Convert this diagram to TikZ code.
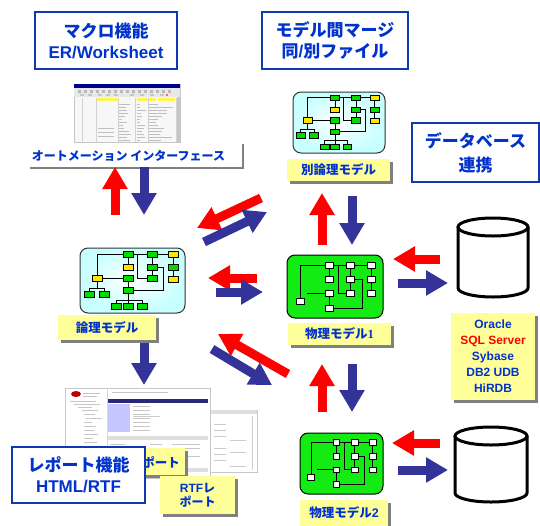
\documentclass[tikz,border=0pt]{standalone}
\usepackage{fontspec}
\setmainfont{Liberation Sans}
\newfontfamily\jpb{Noto Sans CJK JP Bold}
\newfontfamily\numserif{Liberation Serif}
\usetikzlibrary{arrows.meta,shadows}

\definecolor{txtblue}{RGB}{0,51,204}
\definecolor{frameblue}{RGB}{16,56,176}
\definecolor{arrred}{RGB}{255,0,0}
\definecolor{arrblue}{RGB}{51,51,153}
\definecolor{labelyellow}{RGB}{255,255,153}
\definecolor{shadowgray}{RGB}{128,128,128}
\definecolor{pmgreen}{RGB}{20,235,20}
\definecolor{lmgreen}{RGB}{0,220,0}
\definecolor{lmyellow}{RGB}{255,230,0}

\newcommand\J[1]{{\jpb #1}}

% small entity boxes of the model thumbnails
\newcommand\lmbx[3]{\filldraw[fill=#1,draw=black,line width=0.5pt] (#2-5,#3-2.8) rectangle (#2+5,#3+2.8);}
\newcommand\pmbx[2]{\filldraw[fill=white,draw=black,line width=0.6pt] (#1-4,#2-3) rectangle (#1+4,#2+3);}

% logical model thumbnail, local frame 105 x 65
\newcommand\logicdiagram{%
  \draw[wire] (17,30)--(17,6)--(93,6);
  \draw[wire] (48,6)--(48,19);
  \draw[wire] (17,30)--(48,30);
  \draw[wire] (57,6)--(57,30)--(72,30);
  \draw[wire] (72,6)--(72,30);
  \draw[wire] (72,19)--(83,19)--(83,42)--(48,42);
  \draw[wire] (48,30)--(48,52) (36,58)--(36,52)--(62,52)--(62,58) (48,52)--(48,58);
  \draw[wire] (17,30)--(17,40) (9,46)--(9,40)--(24,40)--(24,46);
  \draw[wire] (93,6)--(93,31);
  \lmbx{lmgreen}{48}{6}\lmbx{lmgreen}{72}{6}\lmbx{lmyellow}{93}{6}
  \lmbx{lmyellow}{48}{19}\lmbx{lmgreen}{72}{19}\lmbx{lmgreen}{93}{19}
  \lmbx{lmyellow}{17}{30}\lmbx{lmgreen}{48}{30}\lmbx{lmgreen}{72}{30}\lmbx{lmyellow}{93}{31}
  \lmbx{lmgreen}{48}{42}
  \lmbx{lmgreen}{9}{46}\lmbx{lmgreen}{24}{46}
  \lmbx{lmgreen}{36}{58}\lmbx{lmgreen}{48}{58}\lmbx{lmgreen}{62}{58}
}

% physical model thumbnail, local frame 96 x 63
\newcommand\physdiagram{%
  \draw[wire] (13,46)--(13,10)--(84,10);
  \draw[wire] (42,10)--(42,24);
  \draw[wire] (51,10)--(51,38)--(63,38);
  \draw[wire] (63,10)--(63,38);
  \draw[wire] (84,10)--(84,38);
  \draw[wire] (20,38)--(42,38);
  \draw[wire] (42,38)--(42,53)--(75,53)--(75,24)--(63,24);
  \pmbx{42}{10}\pmbx{63}{10}\pmbx{84}{10}
  \pmbx{42}{24}\pmbx{63}{24}\pmbx{84}{24}
  \pmbx{42}{38}\pmbx{63}{38}\pmbx{84}{38}
  \pmbx{42}{53}\pmbx{13}{46}
}

\tikzset{
  titlebox/.style={draw=frameblue, line width=2pt, fill=white, inner sep=0pt,
    align=center, text=txtblue, font=\bfseries\fontsize{17}{21}\selectfont},
  tag/.style={fill=labelyellow, inner sep=0pt, align=center, text=txtblue,
    font=\bfseries\fontsize{12.5}{14}\selectfont,
    drop shadow={shadow xshift=3pt, shadow yshift=-3pt, fill=shadowgray, opacity=1}},
  redarrow/.style={draw=arrred, line width=9pt, -{Triangle[width=24pt,length=22pt]}},
  bluearrow/.style={draw=arrblue, line width=9pt, -{Triangle[width=24pt,length=22pt]}},
  lmcanvas/.style={draw=black!80, line width=1pt, rounded corners=8pt,
    inner color=white, outer color=cyan!22, inner sep=0pt},
  pmcanvas/.style={draw=black, line width=1pt, rounded corners=8pt, fill=pmgreen, inner sep=0pt},
  wire/.style={draw=black, line width=0.8pt},
  drum/.style={draw=black, line width=3pt, fill=white},
  shot/.style={draw=gray!45, line width=0.6pt, fill=white, inner sep=0pt},
}

\begin{document}
\begin{tikzpicture}[x=1pt,y=-1pt]
\useasboundingbox (0,0) rectangle (540,525);

% ---------- title boxes ----------
\node[titlebox, minimum width=142pt, minimum height=57pt] (macro) at (106,40.5)
  {\J{マクロ機能}\\ER/Worksheet};
\node[titlebox, minimum width=146pt, minimum height=57pt] (merge) at (335,40.5)
  {\J{モデル間マージ}\\\J{同}/\J{別ファイル}};
\node[titlebox, minimum width=127pt, minimum height=59pt,
      font=\bfseries\fontsize{17}{24}\selectfont] (dblink) at (475.5,152.5)
  {\J{データベース}\\\J{連携}};

% ---------- worksheet screenshot ----------
\node[shot, fill=gray!6, minimum width=106pt, minimum height=58pt] (sheet) at (127,113) {};
\fill[blue!55!black] (74,84) rectangle (180,88);
\fill[gray!18] (74,88) rectangle (180,97);
\foreach \x in {78,84,90,96,102,108,114,120,126,132,138,144,150,156,162,168}
  \fill[gray!55] (\x,90) rectangle (\x+3,92.5);
\foreach \x in {80,88,98,106,114,130,140,150,160}
  \fill[gray!45] (\x,93.5) rectangle (\x+4,95.5);
\fill[red!60] (166,93.5) rectangle (168,95.5);
\fill[yellow!70] (96,98) rectangle (118,101);
\fill[yellow!70] (137,98) rectangle (156,101);
\fill[yellow!70] (158,98) rectangle (175,101);
\foreach \x in {82,96,118,135,148,176}
  \draw[gray!35, line width=0.4pt] (\x,98) -- (\x,142);
\fill[gray!45] (177,97) rectangle (180,142);
\pgfmathsetseed{7}
\foreach \y in {104,107,...,140}{
  \pgfmathsetmacro\la{rnd*10+2}
  \pgfmathsetmacro\lb{rnd*12+3}
  \pgfmathsetmacro\lc{rnd*20+6}
  \draw[gray!50, line width=0.8pt] (119,\y) -- (119+\la,\y);
  \draw[gray!50, line width=0.8pt] (137,\y) -- (137+\lb*0.6,\y);
  \draw[gray!50, line width=0.8pt] (149,\y) -- (149+\lc,\y);
}
\foreach \y in {128,132,136}
  \draw[gray!50, line width=0.8pt] (98,\y) -- (114,\y);

% ---------- automation interface bar ----------
\node[fill=white, minimum width=213pt, minimum height=24pt, inner sep=0pt] (autobar) at (136.5,156) {};
\draw[shadowgray, line width=2.5pt] (autobar.north east) -- (autobar.south east) -- (autobar.south west);
\node[text=txtblue, font=\bfseries\fontsize{12}{14}\selectfont, inner sep=0pt] (autotext) at (128.5,156)
  {\J{オートメーション インターフェース}};

% ---------- logical model ----------
\node[lmcanvas, minimum width=105pt, minimum height=65pt] (lm) at (132.5,280.5) {};
\begin{scope}[shift={(80,248)}]
  \logicdiagram
\end{scope}
\node[tag, minimum width=98pt, minimum height=25pt] (lmtag) at (107,327.5) {\J{論理モデル}};

% ---------- separate logical model ----------
\node[lmcanvas, minimum width=92pt, minimum height=61pt] (lmb) at (339,122.5) {};
\begin{scope}[shift={(293,92)}, xscale=0.876, yscale=0.938]
  \logicdiagram
\end{scope}
\node[tag, minimum width=103pt, minimum height=22pt] (lmbtag) at (338.5,170) {\J{別論理モデル}};

% ---------- physical models ----------
\node[pmcanvas, minimum width=96pt, minimum height=63pt] (pm1) at (335,286.5) {};
\begin{scope}[shift={(287,255)}]
  \physdiagram
\end{scope}
\node[tag, minimum width=103pt, minimum height=22pt] (pm1tag) at (339.5,334)
  {\J{物理モデル}{\numserif 1}};

\node[pmcanvas, minimum width=83pt, minimum height=61pt] (pm2) at (341.5,463.5) {};
\begin{scope}[shift={(300,433)}, xscale=0.865, yscale=0.968]
  \physdiagram
\end{scope}
\node[tag, minimum width=88pt, minimum height=26pt] (pm2tag) at (344,513)
  {\J{物理モデル}2};

% ---------- databases ----------
\coordinate (db1) at (493,257);
\draw[drum] (458,227) -- (458,288) arc[start angle=180, end angle=0, x radius=35, y radius=9] -- (528,227);
\draw[drum] (493,227) ellipse[x radius=35, y radius=9];
\coordinate (db2) at (491,465);
\draw[drum] (455,436) -- (455,493) arc[start angle=180, end angle=0, x radius=36, y radius=9] -- (527,436);
\draw[drum] (491,436) ellipse[x radius=36, y radius=9];

\node[tag, minimum width=84pt, minimum height=87pt, font=\bfseries\fontsize{12}{16}\selectfont]
  (dblist) at (493,356.5)
  {Oracle\\\textcolor{arrred}{SQL Server}\\Sybase\\DB2 UDB\\HiRDB};

% ---------- report screenshots ----------
\node[shot, minimum width=52pt, minimum height=62pt] (report2) at (231,441) {};
\fill[gray!25] (205,410) rectangle (257,414);
\draw[gray!40, line width=0.5pt] (252,416) -- (252,470);
\foreach \y in {424,430,436,448,454,460}
  \draw[gray!40, line width=0.7pt] (214,\y) -- (226,\y);
\foreach \y in {440,452,466}
  \draw[gray!40, line width=0.7pt] (230,\y) -- (246,\y);

\node[shot, minimum width=145pt, minimum height=90pt] (report) at (137.5,433) {};
\fill[red!75!black] (76,394) ellipse[x radius=5, y radius=3];
\draw[gray!45, line width=0.8pt] (83,393) -- (100,393) (83,396) -- (97,396);
\draw[gray!30, line width=0.5pt] (107,389) -- (107,478);
\draw[gray!45, line width=0.8pt] (112,392) -- (168,392);
\foreach \y/\a/\b in {401/70/96,404/74/100,407/78/92,410/82/98,414/84/95,418/86/102,
                      422/84/92,426/84/96,430/84/94,434/84/98,438/84/93,442/84/97,
                      446/84/92,450/84/95,454/84/94,458/84/96,462/84/93}
  \draw[gray!45, line width=0.8pt] (\a,\y) -- (\b,\y);
\fill[arrblue!80!black] (108,399) rectangle (208,402.5);
\fill[blue!22] (108,404) rectangle (130,432);
\foreach \y in {406,410,414,418,422,426,430}
  \draw[gray!45, line width=0.7pt] (133,\y) -- (150,\y);
\draw[gray!40, line width=0.7pt] (133,416) -- (160,416);
\fill[gray!25] (108,436) rectangle (208,440);
\foreach \y in {444,448,456}
  \draw[gray!45, line width=0.7pt] (110,\y) -- (125,\y) (150,\y) -- (162,\y) (172,\y) -- (200,\y);
\fill[gray!25] (108,468) rectangle (208,472);

% ---------- report labels and title ----------
\node[tag, minimum width=75pt, minimum height=27pt] (htmltag) at (147.5,461.5) {};
\node[text=txtblue, font=\bfseries\fontsize{12.5}{14}\selectfont, inner sep=0pt] (htmltext) at (161,462) {\J{ポート}};
\node[tag, minimum width=75pt, minimum height=38pt, font=\bfseries\fontsize{12}{14}\selectfont]
  (rtftag) at (197.5,495) {RTF\J{レ}\\\J{ポート}};
\node[titlebox, minimum width=133pt, minimum height=56pt] (report title) at (78.5,475)
  {\J{レポート機能}\\HTML/RTF};

% ---------- transfer arrows ----------
\coordinate (a1s) at (115,215);  \coordinate (a1e) at (115,167);
\coordinate (a2s) at (144,167);  \coordinate (a2e) at (144,215);
\coordinate (a3s) at (261,198);  \coordinate (a3e) at (197,228);
\coordinate (a4s) at (204,242);  \coordinate (a4e) at (267,212);
\coordinate (a5s) at (257,278);  \coordinate (a5e) at (208,278);
\coordinate (a6s) at (216,292);  \coordinate (a6e) at (263,292);
\coordinate (a7s) at (288,374);  \coordinate (a7e) at (218,334);
\coordinate (a8s) at (212,349);  \coordinate (a8e) at (272,385);
\coordinate (a9s) at (322,245);  \coordinate (a9e) at (322,193);
\coordinate (a10s) at (352,196); \coordinate (a10e) at (352,245);
\coordinate (a11s) at (322,412); \coordinate (a11e) at (322,364);
\coordinate (a12s) at (352,364); \coordinate (a12e) at (352,412);
\coordinate (a13s) at (440,259); \coordinate (a13e) at (393,259);
\coordinate (a14s) at (398,283); \coordinate (a14e) at (448,283);
\coordinate (a15s) at (440,443); \coordinate (a15e) at (392,443);
\coordinate (a16s) at (398,470); \coordinate (a16e) at (448,470);
\coordinate (a17s) at (144,343); \coordinate (a17e) at (144,385);

\foreach \n in {1,3,5,7,9,11,13,15}
  \draw[redarrow] (a\n s) -- (a\n e);
\foreach \n in {2,4,6,8,10,12,14,16,17}
  \draw[bluearrow] (a\n s) -- (a\n e);

\end{tikzpicture}
\end{document}
